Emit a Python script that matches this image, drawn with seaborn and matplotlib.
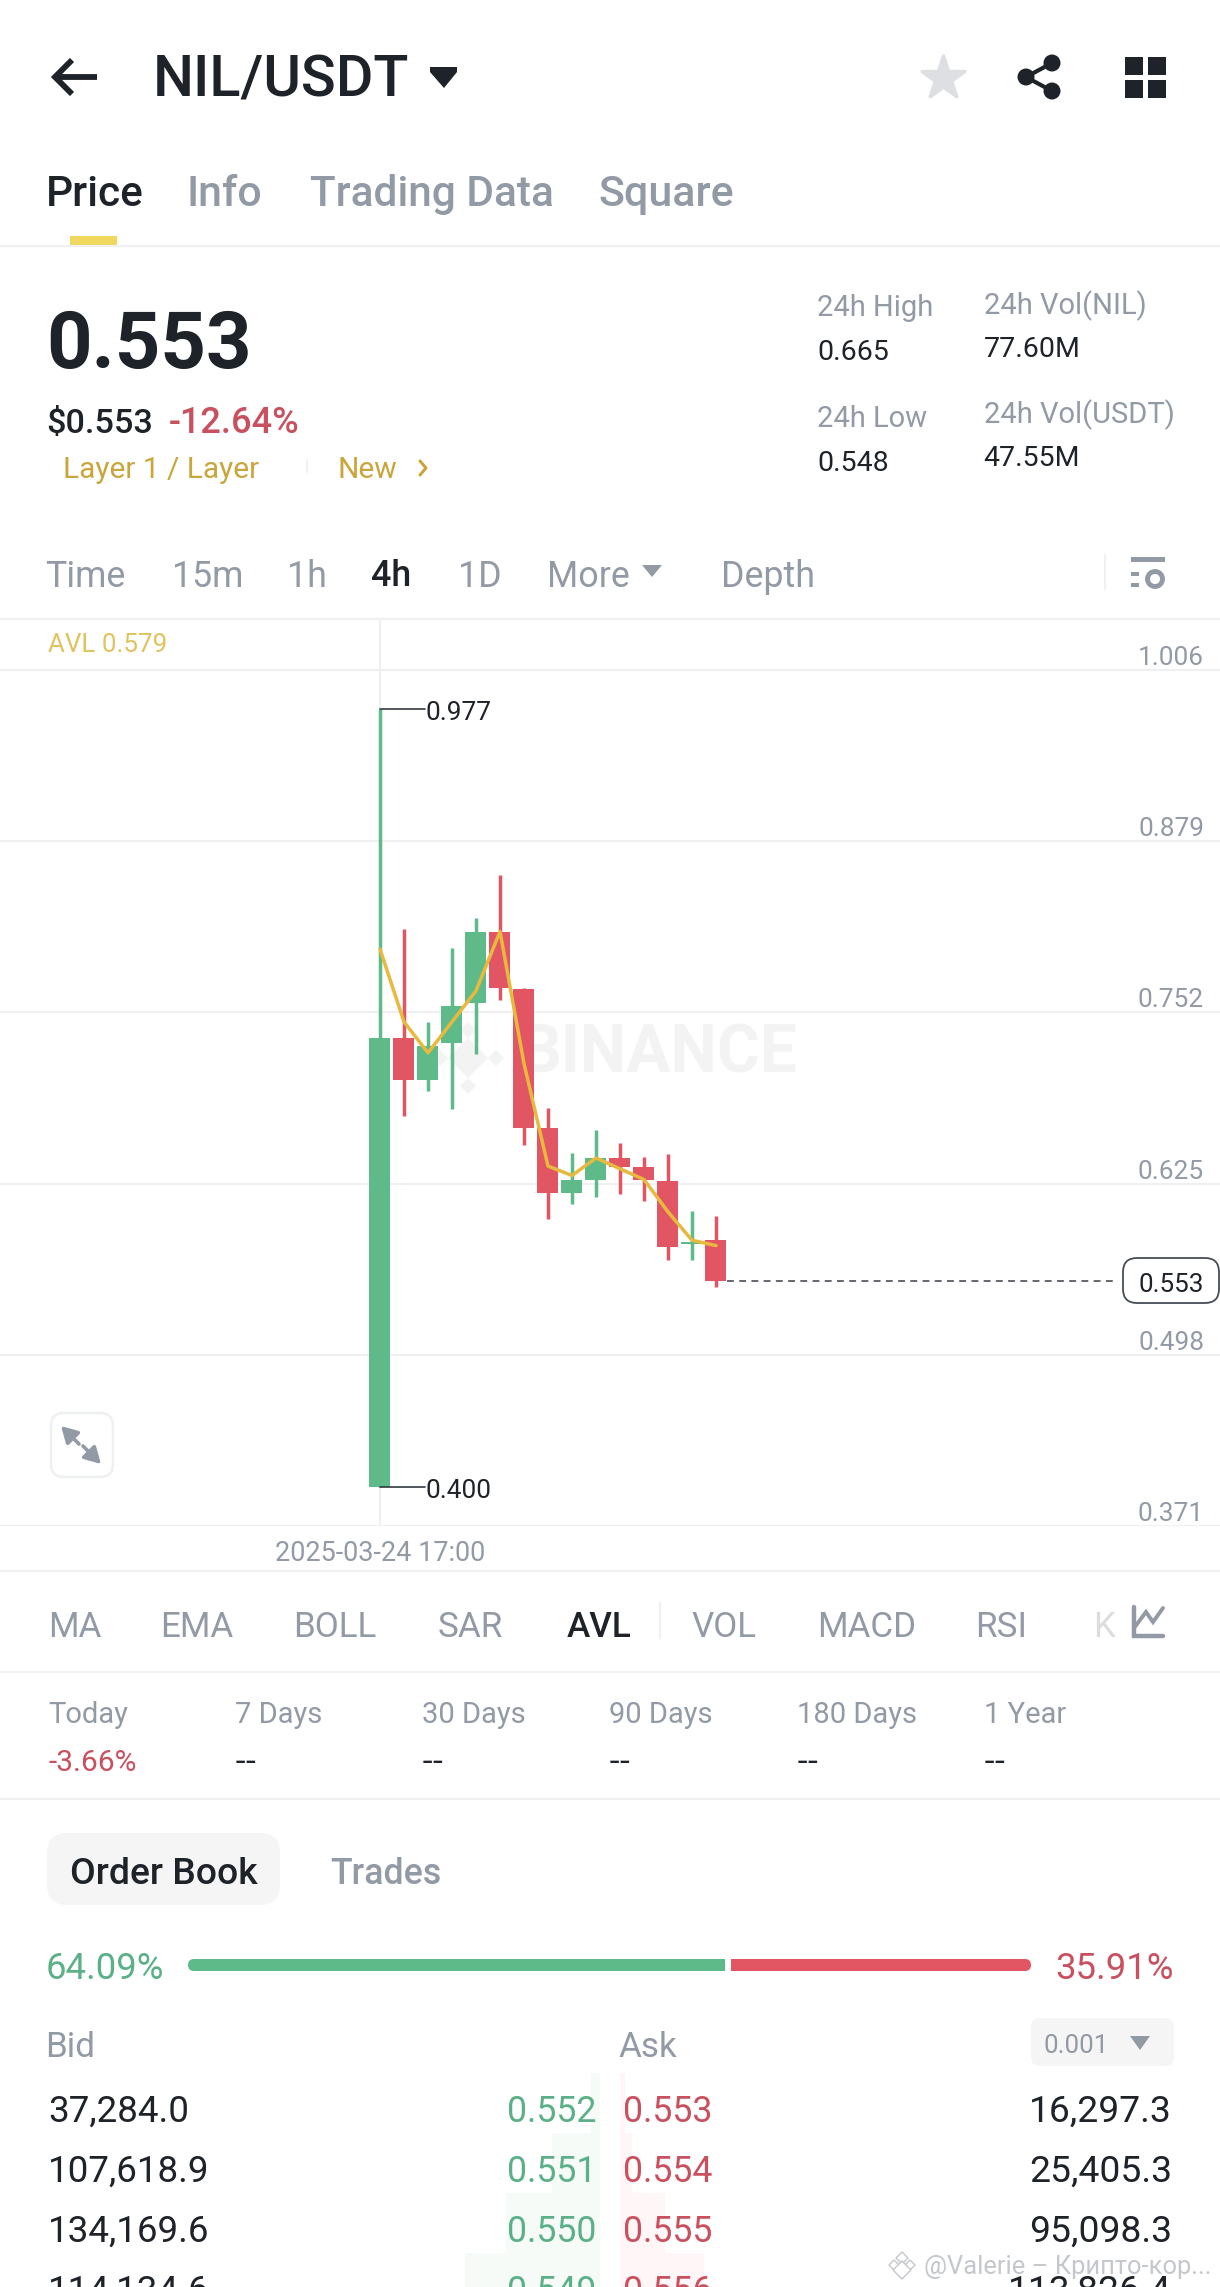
import numpy as np
import pandas as pd
import seaborn as sns
import matplotlib
matplotlib.use("Agg")
import matplotlib.pyplot as plt
from matplotlib.patches import FancyBboxPatch, Rectangle, Polygon, Circle

# ---- chart values ----
opens  = [0.400, 0.733, 0.702, 0.729, 0.759, 0.812, 0.769, 0.666, 0.618, 0.628, 0.644, 0.637, 0.627, 0.580, 0.583]
closes = [0.733, 0.702, 0.727, 0.757, 0.812, 0.770, 0.666, 0.618, 0.628, 0.644, 0.637, 0.628, 0.578, 0.582, 0.553]
highs  = [0.977, 0.814, 0.745, 0.800, 0.822, 0.854, 0.770, 0.681, 0.648, 0.665, 0.655, 0.645, 0.647, 0.605, 0.601]
lows   = [0.400, 0.675, 0.694, 0.680, 0.721, 0.761, 0.654, 0.599, 0.610, 0.615, 0.617, 0.612, 0.568, 0.568, 0.548]
avl    = [0.799, 0.745, 0.722, 0.745, 0.768, 0.812, 0.714, 0.638, 0.631, 0.644, 0.636, 0.628, 0.604, 0.583, 0.579]
price_ticks = [1.006, 0.879, 0.752, 0.625, 0.498, 0.371]
date_label = "2025-03-24 17:00"
last_price = 0.553
bid_share, ask_share = 64.09, 35.91
bid_qty = ["37,284.0", "107,618.9", "134,169.6", "114,134.6"]
bid_px  = ["0.552", "0.551", "0.550", "0.549"]
ask_px  = ["0.553", "0.554", "0.555", "0.556"]
ask_qty = ["16,297.3", "25,405.3", "95,098.3", "113,826.4"]
bid_depth = [9, 48, 94, 135]
ask_depth = [5, 12, 45, 84]
time_tabs = ["Time", "15m", "1h", "4h", "1D", "More", "Depth"]
ind_tabs = ["MA", "EMA", "BOLL", "SAR", "AVL", "VOL", "MACD", "RSI"]
perf_labels = ["Today", "7 Days", "30 Days", "90 Days", "180 Days", "1 Year"]
perf_values = ["-3.66%", "--", "--", "--", "--", "--"]

DARK, GRAY, LINE = "#1E2329", "#929AA5", "#EEF0F2"
GREEN, RED = "#5EBA89", "#E25563"
TGREEN, TRED, GOLD = "#5CB088", "#C9505F", "#C9A63C"

sns.set_theme(style="white")
plt.rcParams["font.family"] = ["Roboto", "DejaVu Sans"]

W, H = 1220, 2287
S = W / 836
fig = plt.figure(figsize=(W / 100, H / 100), dpi=100, facecolor="white")

ui = fig.add_axes([0, 0, 1, 1], zorder=0)
ui.set_xlim(0, W); ui.set_ylim(H, 0); ui.axis("off")

def t(x, y, s, size, color=DARK, weight="normal", ha="left", **kw):
    return ui.text(x * S, (y + 1.3) * S, s, fontsize=size * S * 0.72, color=color,
                   weight=weight, ha=ha, va="center", **kw)

def hl(y, x0=0, x1=W, c=LINE, lw=2.2):
    ui.plot([x0, x1], [y, y], color=c, lw=lw * .72, solid_capstyle="butt")

def pill(x0, y0, x1, y1, r, fc, ec="none", lw=0, target=None):
    (target or ui).add_patch(FancyBboxPatch((x0 + r, y0 + r), x1 - x0 - 2 * r, y1 - y0 - 2 * r,
                             boxstyle=f"round,pad={r},rounding_size={r}",
                             fc=fc, ec=ec, lw=lw))

# ---- header ----
ui.plot([72, 55, 72], [60, 77, 94], color=DARK, lw=4.2, solid_joinstyle="miter", solid_capstyle="butt")
ui.plot([56, 97], [77, 77], color=DARK, lw=4.2, solid_capstyle="butt")
t(105, 54, "NIL/USDT", 39.5, weight="medium")
ui.add_patch(Polygon([(430, 67), (457, 67), (457, 72), (444, 88), (430, 72)], fc=DARK, ec="none"))
ui.scatter([943], [78], marker="*", s=1050, color="#DDDFE3", edgecolors="#DDDFE3", linewidths=2.5)
for cx, cy in [(1052, 63), (1026, 77), (1052, 91)]:
    ui.add_patch(Circle((cx, cy), 8.5, fc=DARK, ec="none"))
ui.plot([1052, 1026, 1052], [63, 77, 91], color=DARK, lw=3)
for x0, y0 in [(1125, 57), (1148, 57), (1125, 80), (1148, 80)]:
    ui.add_patch(Rectangle((x0, y0), 17.5, 17.5, fc=DARK, ec="none"))

t(31.5, 132, "Price", 29, weight="medium")
t(128, 132, "Info", 29.5, GRAY, "medium")
t(212.5, 132, "Trading Data", 29, GRAY, "medium")
t(410, 132, "Square", 29.5, GRAY, "medium")
ui.add_patch(Rectangle((70, 236), 47, 9, fc="#F0D75E", ec="none"))
hl(246)

t(31.5, 236, "0.553", 54.5, weight="bold")
t(31.5, 289, "$0.553", 23.5, weight="medium")
t(115.5, 289, "-12.64%", 24.8, TRED, "medium")
t(43, 321, "Layer 1 / Layer", 20.5, GOLD)
ui.plot([307, 307], [460, 472], color=LINE, lw=1.5)
t(231, 321, "New", 20.5, GOLD)
ui.plot([420, 426, 420], [461, 468, 475], color=GOLD, lw=2.2)
t(560, 210, "24h High", 20, GRAY)
t(560, 240, "0.665", 19.5)
t(560, 286, "24h Low", 20, GRAY)
t(560, 316, "0.548", 19.5)
t(674, 208, "24h Vol(NIL)", 20, GRAY)
t(674, 238, "77.60M", 19.5)
t(674, 283, "24h Vol(USDT)", 20, GRAY)
t(674, 313, "47.55M", 19.5)

# ---- interval tabs ----
for lab, x in zip(time_tabs, [31, 118, 197, 254, 314, 375, 494]):
    t(x, 394, lab, 24.5, DARK if lab == "4h" else GRAY, "medium" if lab == "4h" else "normal")
ui.add_patch(Polygon([(642, 565), (662, 565), (652, 577)], fc=GRAY, ec="none"))
ui.plot([1105, 1105], [555, 589], color=LINE, lw=1.5)
ui.add_patch(Rectangle((1131, 557), 34, 5, fc=GRAY, ec="none"))
ui.add_patch(Rectangle((1131, 572), 8, 4, fc=GRAY, ec="none"))
ui.add_patch(Rectangle((1131, 583), 8, 4, fc=GRAY, ec="none"))
ui.add_patch(Circle((1155, 579), 7.5, fc="white", ec=GRAY, lw=3.5))

# ---- chart background furniture ----
hl(619)
t(33, 441, "AVL 0.579", 17.8, "#E0C35F")
t(356, 721, "BINANCE", 45, "#F3F3F4", "bold")
for cx, cy, r in [(468, 1058, 20), (440, 1058, 8), (496, 1058, 8), (468, 1030, 8), (468, 1086, 8)]:
    ui.add_patch(Polygon([(cx - r, cy), (cx, cy - r), (cx + r, cy), (cx, cy + r)], fc="#F3F3F4", ec="none"))
pill(51, 1413, 113, 1477, 13, "white", LINE, 1.8)
ui.annotate("", xy=(61, 1426), xytext=(79, 1444),
            arrowprops=dict(arrowstyle="-|>,head_width=.45,head_length=.8", color=GRAY, lw=2.6, shrinkA=0, shrinkB=0))
ui.annotate("", xy=(101, 1464), xytext=(83, 1446),
            arrowprops=dict(arrowstyle="-|>,head_width=.45,head_length=.8", color=GRAY, lw=2.6, shrinkA=0, shrinkB=0))

# ---- candlesticks ----
top_px, bottom_px = 619, 1526
ax = fig.add_axes([0, 1 - bottom_px / H, 1, (bottom_px - top_px) / H], zorder=1)
ax.patch.set_alpha(0)
idx = np.arange(len(opens))
is_up = np.array(closes) > np.array(opens)
colors = [GREEN if u else RED for u in is_up]

wick = pd.DataFrame({
    "i": np.r_[idx, idx],
    "price": highs + lows,
    "dir": np.r_[is_up, is_up],
})
sns.lineplot(data=wick, x="i", y="price", units="i", hue="dir", estimator=None, ax=ax,
             palette={True: GREEN, False: RED}, linewidth=2.5, legend=False,
             solid_capstyle="butt", zorder=3)
ax.bar(idx, np.abs(np.array(closes) - np.array(opens)), bottom=np.minimum(opens, closes),
       width=0.875, color=colors, zorder=4, linewidth=0)
sns.lineplot(x=idx, y=avl, ax=ax, color="#E8B93F", linewidth=2.5, zorder=5, legend=False)

px_per_unit = (price_ticks[0] - price_ticks[-1]) / (1526 - 670)
ax.set_ylim(price_ticks[-1], price_ticks[0] + (670 - top_px) * px_per_unit)
ax.set_xlim(-380 / 24, (W - 380) / 24)
ax.set_xlabel(""); ax.set_ylabel("")
ax.set_yticks(price_ticks)
ax.set_yticklabels([f"{v:.3f}" for v in price_ticks], ha="right", va="bottom",
                   color=GRAY, fontsize=18 * S * .72)
ax.set_xticks([0]); ax.set_xticklabels([date_label], color=GRAY, fontsize=18.5 * S * .72)
ax.tick_params(axis="y", length=0, labelleft=False, labelright=True, pad=-11.5)
ax.tick_params(axis="x", length=0, pad=10)
ax.grid(True, color=LINE, lw=1.4)
ax.set_axisbelow(True)
for sp in ax.spines.values():
    sp.set_visible(False)

for v, lab in [(highs[0], "0.977"), (lows[0], "0.400")]:
    ax.plot([0, 45 / 24], [v, v], color="#333A42", lw=1.2, zorder=6)
    ax.annotate(lab, xy=(0, v), xytext=(32.5, -3), textcoords="offset points", va="center", ha="left",
                color=DARK, fontsize=18 * S * .72, zorder=6)
ax.plot([14.45, (1116 - 380) / 24], [last_price, last_price], color="#3A4048", lw=1.1, ls=(0, (4.5, 3.5)), zorder=2)
ax2 = fig.add_axes([0, 0, 1, 1], zorder=2); ax2.set_xlim(0, W); ax2.set_ylim(H, 0); ax2.axis("off")
pill(1123, 1258, 1219, 1303, 14, "white", "#474D57", 1.3, target=ax2)
ax2.text(1171, 1285, f"{last_price:.3f}", fontsize=17.8 * S * .72, color=DARK, ha="center", va="center")

# ---- indicator tabs ----
hl(1571)
for lab, x in zip(ind_tabs, [33, 110, 201, 300, 388, 474, 560, 668]):
    t(x, 1114, lab, 24, DARK if lab == "AVL" else GRAY, "medium" if lab == "AVL" else "normal")
t(749, 1114, "K", 24, "#DADCE0")
ui.plot([660, 660], [1603, 1638], color=LINE, lw=1.5)
ui.plot([1134, 1134, 1163], [1607, 1636, 1636], color=GRAY, lw=3.2, solid_joinstyle="miter")
ui.plot([1134, 1146, 1153, 1163], [1628, 1612, 1622, 1608], color=GRAY, lw=2.8, solid_joinstyle="miter")
hl(1672, lw=1.6)
for lab, val, x in zip(perf_labels, perf_values, [33, 161, 289, 417, 546, 674]):
    t(x, 1174, lab, 20, GRAY)
    if val == "--":
        t(x, 1206, val, 24, family="Open Sans")
    else:
        t(x, 1207, val, 20.5, TRED)
hl(1799, lw=2)

# ---- order book ----
pill(47, 1833, 280, 1905, 20, "#F5F5F5")
t(48, 1283, "Order Book", 25.5, weight="medium")
t(226, 1283, "Trades", 24.5, GRAY, "medium")
t(31, 1348, f"{bid_share:.2f}%", 25, TGREEN)
t(804, 1348, f"{ask_share:.2f}%", 25, TRED, ha="right")
bar_x0, bar_x1, gap = 188, 1031, 6
split = bar_x0 + (bar_x1 - bar_x0) * bid_share / (bid_share + ask_share) - 3
pill(bar_x0, 1959, split, 1971, 6, GREEN)
ui.add_patch(Rectangle((split - 8, 1959), 8, 12, fc=GREEN, ec="none"))
pill(split + gap, 1959, bar_x1, 1971, 6, RED)
ui.add_patch(Rectangle((split + gap, 1959), 8, 12, fc=RED, ec="none"))
t(31, 1402, "Bid", 24, GRAY)
t(424, 1402, "Ask", 24, GRAY)
pill(1031, 2018, 1174, 2066, 9, "#F5F5F5")
t(715, 1401, "0.001", 17.8, GRAY)
ui.add_patch(Polygon([(1130, 2036), (1150, 2036), (1140, 2050)], fc=GRAY, ec="none"))
for k, (bd, ad) in enumerate(zip(bid_depth, ask_depth)):
    ui.add_patch(Rectangle((600 - bd, 2073 + 60 * k), bd, 60, fc="#F6FBF8", ec="none"))
    ui.add_patch(Rectangle((620, 2073 + 60 * k), ad, 60, fc="#FEF6F7", ec="none"))
for k, (a, b, c, d) in enumerate(zip(bid_qty, bid_px, ask_px, ask_qty)):
    y = 1446 + 41 * k
    t(33, y, a, 25.2)
    t(409, y, b, 24.5, TGREEN, ha="right")
    t(427, y, c, 24.5, TRED)
    t(803, y, d, 25.5, ha="right")
t(633, 1552, "@Valerie – Крипто-кор...", 17.5, "#C4C7CC", zorder=9)
for px, py, r in [(902, 2258, 6), (894, 2265, 5), (910, 2265, 5), (902, 2270, 9)]:
    ui.add_patch(Polygon([(px - r, py), (px, py - r), (px + r, py), (px, py + r)],
                         fc="white", ec="#C4C7CC", lw=1, zorder=9))

fig.savefig("out.png", dpi=100)
